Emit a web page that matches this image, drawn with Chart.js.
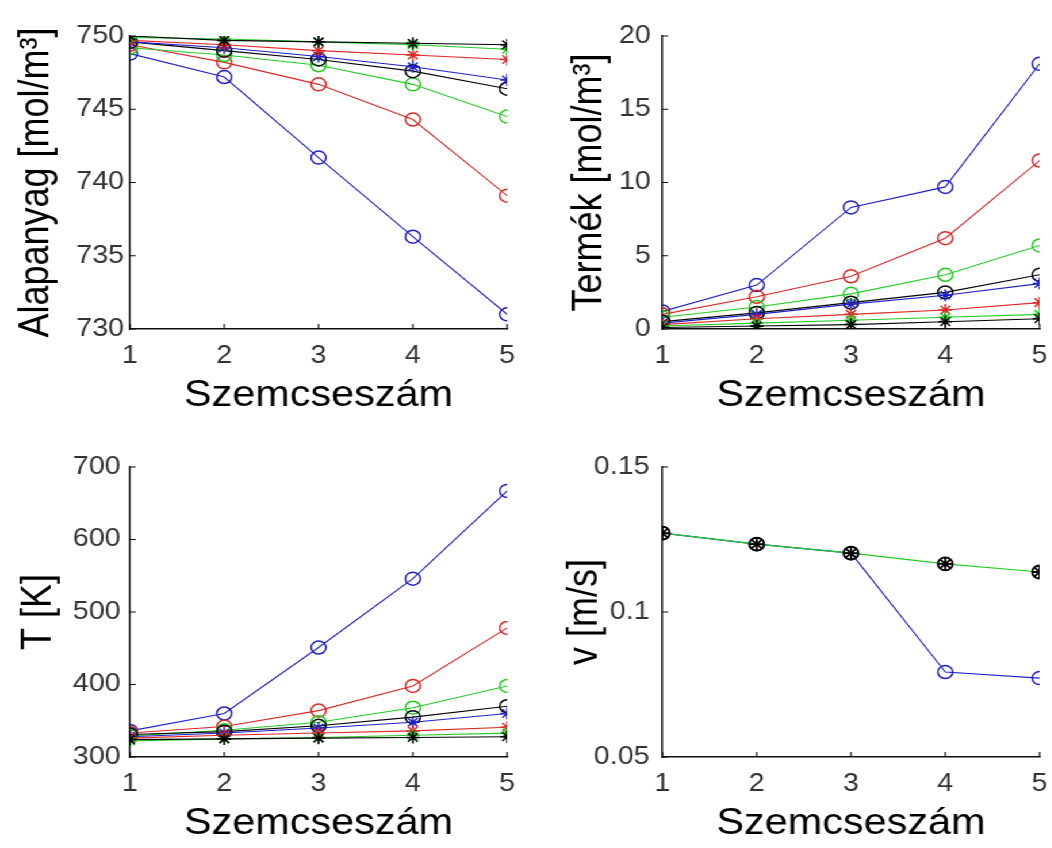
<!DOCTYPE html>
<html>
<head>
<meta charset="utf-8">
<script src="https://cdn.jsdelivr.net/npm/chart.js@4.4.1/dist/chart.umd.min.js"></script>
<style>
  html, body { margin: 0; padding: 0; background: #fff; }
  #fig { position: absolute; left: 0; top: 0; width: 915px; height: 848px; transform: scaleX(1.15); transform-origin: 0 0; }
  #fig canvas { position: absolute; }
</style>
</head>
<body>
<div id="fig">
  <canvas id="alap" width="460" height="424" style="left:0;top:0"></canvas>
  <canvas id="termek" width="455" height="424" style="left:460px;top:0"></canvas>
  <canvas id="homers" width="460" height="424" style="left:0;top:424px"></canvas>
  <canvas id="sebesseg" width="455" height="424" style="left:460px;top:424px"></canvas>
</div>
<script>
// szemcseszám (x)
const SZEMCSE = [1, 2, 3, 4, 5]

// series colours: kék, piros, zöld, fekete
const SZINEK = ['#1f1fc8', '#e02626', '#22cc22', '#000000']

// Alapanyag [mol/m3] — rows: blue, red, green, black
const ALAP_KOR = [
  [748.8, 747.2, 741.7, 736.3, 731.0],
  [749.4, 748.2, 746.7, 744.3, 739.1],
  [749.2, 748.7, 748.0, 746.7, 744.5],
  [749.6, 749.0, 748.4, 747.6, 746.4],
]
const ALAP_CSILLAG = [
  [749.6, 749.2, 748.6, 747.9, 747.0],
  [749.7, 749.4, 749.0, 748.7, 748.4],
  [749.9, 749.8, 749.6, 749.4, 749.1],
  [750.0, 749.7, 749.6, 749.5, 749.4],
]

// Termék [mol/m3]
const TERMEK_KOR = [
  [1.2, 3.0, 8.3, 9.7, 18.1],
  [1.0, 2.2, 3.6, 6.2, 11.5],
  [0.8, 1.5, 2.4, 3.7, 5.7],
  [0.5, 1.1, 1.8, 2.5, 3.7],
]
const TERMEK_CSILLAG = [
  [0.4, 1.0, 1.7, 2.3, 3.1],
  [0.3, 0.7, 1.0, 1.3, 1.8],
  [0.2, 0.4, 0.6, 0.8, 1.0],
  [0.1, 0.2, 0.3, 0.5, 0.7],
]

// T [K]
const T_KOR = [
  [336, 360, 451, 546, 667],
  [333, 342, 364, 398, 478],
  [329, 337, 348, 368, 398],
  [331, 335, 343, 355, 370],
]
const T_CSILLAG = [
  [328, 333, 340, 348, 360],
  [326, 330, 333, 336, 341],
  [322, 325, 327, 330, 333],
  [324, 325, 326, 327, 328],
]

// v [m/s]
const V_KEK = [0.1272, 0.1234, 0.1203, 0.0793, 0.0772]
const V_ZOLD = [0.1272, 0.1234, 0.1203, 0.1166, 0.1138]

// y tick ranges [min, max, step]
const Y_ALAP = [730, 750, 5]
const Y_TERMEK = [0, 20, 5]
const Y_T = [300, 700, 100]
const Y_V = [0.05, 0.15, 0.05]

const FONT = "'Liberation Sans', Arial, Helvetica, sans-serif"

const pts = vals => vals.map((v, i) => ({ x: SZEMCSE[i], y: v }))

// MATLAB-like inward tick marks
const innerTicks = {
  id: 'innerTicks',
  afterDraw(chart) {
    const { ctx, chartArea: a, scales } = chart
    ctx.save()
    ctx.strokeStyle = '#111'
    ctx.lineWidth = 1.2
    ctx.beginPath()
    scales.x.ticks.forEach(t => {
      const px = scales.x.getPixelForValue(t.value)
      ctx.moveTo(px, a.bottom)
      ctx.lineTo(px, a.bottom - 5)
    })
    scales.y.ticks.forEach(t => {
      const py = scales.y.getPixelForValue(t.value)
      ctx.moveTo(a.left, py)
      ctx.lineTo(a.left + 5, py)
    })
    ctx.stroke()
    ctx.restore()
  },
}

function series(rows, style) {
  return rows.map((vals, i) => ({
    data: pts(vals),
    borderColor: SZINEK[i],
    pointBorderColor: SZINEK[i],
    pointBackgroundColor: 'rgba(0,0,0,0)',
    pointStyle: style,
    pointRadius: style === 'star' ? 6 : 6.5,
    pointBorderWidth: 1.5,
    borderWidth: 1.1,
  }))
}

function plot(id, datasets, yRange, yTitle, opts) {
  // later datasets on top, like MATLAB's hold on
  datasets.forEach((d, i) => { d.order = datasets.length - i })
  return new Chart(document.getElementById(id), {
    type: 'line',
    data: { datasets },
    options: {
      responsive: false,
      animation: false,
      events: [],
      layout: { padding: { top: opts.top, right: opts.right, left: 0, bottom: 0 } },
      plugins: { legend: { display: false }, tooltip: { enabled: false } },
      scales: {
        x: {
          type: 'linear', min: 1, max: 5,
          grid: { display: false, drawTicks: false },
          border: { display: true, color: '#111', width: 1.5 },
          ticks: { stepSize: 1, color: '#333', padding: 12, font: { family: FONT, size: 25 } },
          title: { display: true, text: 'Szemcseszám', color: '#000', padding: { top: 0, bottom: opts.xTitlePad }, font: { family: FONT, size: 36, lineHeight: 1.2 } },
          afterFit: s => { s.height = opts.xHeight; s.paddingLeft = 0; s.paddingRight = 0 },
        },
        y: {
          type: 'linear', min: yRange[0], max: yRange[1],
          grid: { display: false, drawTicks: false },
          border: { display: true, color: '#111', width: 1.5 },
          ticks: {
            stepSize: yRange[2], color: '#333', padding: opts.yTickPad,
            font: { family: FONT, size: 25 },
            callback: v => String(+v.toFixed(2)),
          },
          title: { display: true, text: yTitle, color: '#000', padding: { top: opts.yTitlePad, bottom: 0 }, font: { family: FONT, size: 36, lineHeight: 1.2 } },
          afterFit: s => { s.width = opts.yWidth; s.paddingTop = 0; s.paddingBottom = 0 },
        },
      },
    },
    plugins: [innerTicks],
  })
}

plot('alap', [...series(ALAP_KOR, 'circle'), ...series(ALAP_CSILLAG, 'star')], Y_ALAP, 'Alapanyag [mol/m³]',
  { top: 36, right: 19, xHeight: 95, yWidth: 113, yTickPad: 5, yTitlePad: 10, xTitlePad: 6 })

plot('termek', [...series(TERMEK_KOR, 'circle'), ...series(TERMEK_CSILLAG, 'star')], Y_TERMEK, 'Termék [mol/m³]',
  { top: 36, right: 11, xHeight: 95, yWidth: 116, yTickPad: 10, yTitlePad: 31, xTitlePad: 6 })

plot('homers', [...series(T_KOR, 'circle'), ...series(T_CSILLAG, 'star')], Y_T, 'T [K]',
  { top: 43, right: 19, xHeight: 91, yWidth: 113, yTickPad: 8, yTitlePad: 12, xTitlePad: 2 })

const vSets = [
  { data: pts(V_KEK), borderColor: SZINEK[0], pointBorderColor: SZINEK[0], pointStyle: 'circle' },
  { data: pts(V_ZOLD), borderColor: SZINEK[2], pointRadius: 0 },
  { data: pts(V_ZOLD), showLine: false, pointBorderColor: SZINEK[3], pointStyle: 'circle', pointBorderWidth: 1.8 },
  { data: pts(V_ZOLD), showLine: false, pointBorderColor: SZINEK[3], pointStyle: 'star', pointBorderWidth: 1.8 },
].map(d => ({ pointRadius: 6.5, pointBorderWidth: 1.5, borderWidth: 1.1, pointBackgroundColor: 'rgba(0,0,0,0)', ...d }))

plot('sebesseg', vSets, Y_V, 'v [m/s]',
  { top: 43, right: 11, xHeight: 91, yWidth: 116, yTickPad: 11, yTitlePad: 27, xTitlePad: 2 })
</script>
</body>
</html>
